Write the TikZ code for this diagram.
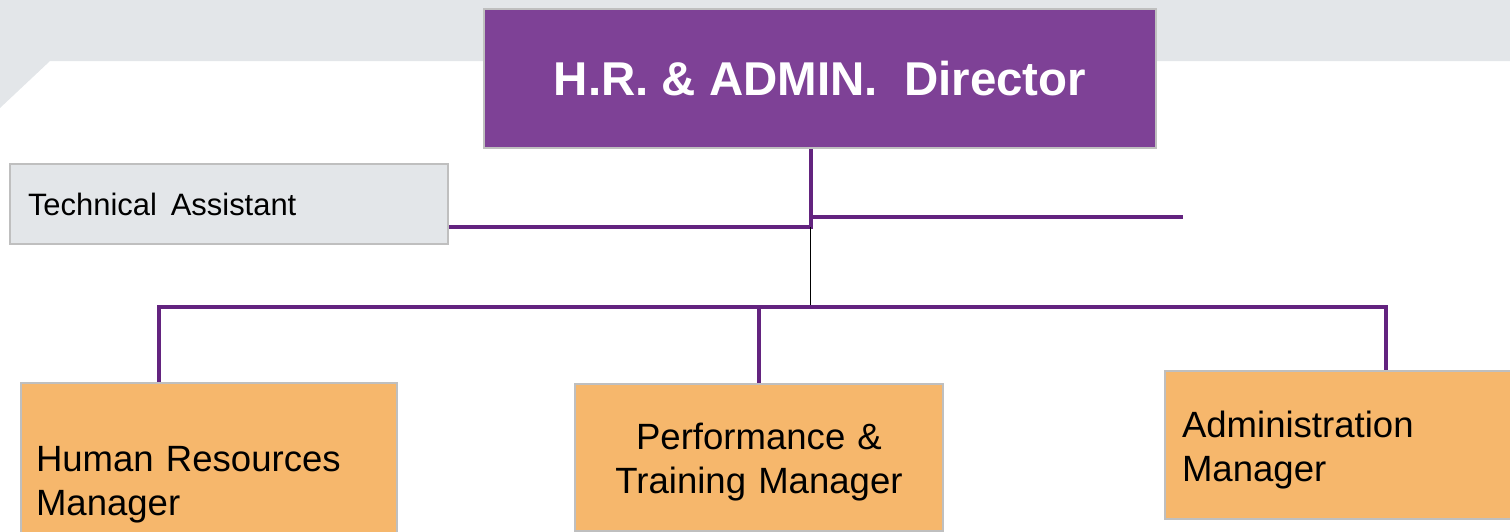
\documentclass[tikz,border=0pt]{standalone}
\usepackage{fontspec}
\setmainfont{Liberation Sans}
\usepackage{tikz}
\usepackage{xcolor}
\definecolor{band}{HTML}{E3E6E9}
\definecolor{plum}{HTML}{7E4196}
\definecolor{wire}{HTML}{63237F}
\definecolor{peach}{HTML}{F6B76C}
\definecolor{frame}{HTML}{BFBFBF}

\begin{document}
\begin{tikzpicture}[
  headnode/.style={
    rectangle,
    draw=frame,
    line width=0.04cm,
    fill=plum,
    minimum width=13.44cm,
    minimum height=2.78cm,
    inner sep=0pt,
    font=\fontsize{27pt}{32pt}\selectfont\bfseries\color{white}
  },
  sidenode/.style={
    rectangle,
    draw=frame,
    line width=0.04cm,
    fill=band,
    text width=8.04cm,
    inner xsep=0.36cm,
    minimum height=1.6cm,
    align=left,
    font=\fontsize{17.6pt}{21pt}\selectfont
  },
  mgrnode/.style={
    rectangle,
    draw=frame,
    line width=0.04cm,
    fill=peach,
    execute at begin node={\rule{0pt}{0.73cm}},
    font=\fontsize{20.8pt}{25pt}\selectfont
  },
  orgline/.style={draw=wire, line width=0.08cm},
  thinline/.style={draw=black, line width=0.035cm}
  ]

  \useasboundingbox (0,0) rectangle (30.2,-10.62);

  % grey band behind the title
  \fill[band] (0,0) -- (30.2,0) -- (30.2,-1.22) -- (1.0,-1.22) -- (0,-2.16) -- cycle;

  % top of the chart
  \begin{scope}
    \node[anchor=north west, headnode] (director) at (9.66,-0.16) {H.R. \& ADMIN.\ \ Director};
    \node[anchor=north west, sidenode] (assistant) at (0.18,-3.26) {Technical\hspace{0.45em}Assistant};
  \end{scope}

  % managers
  \begin{scope}
    \node[anchor=north west, mgrnode, text width=6.92cm, inner xsep=0.30cm, minimum height=3.84cm, align=left] (hr-mgr) at (0.40,-7.64) {Human Resources\\Manager};
    \node[anchor=north west, mgrnode, text width=6.80cm, inner xsep=0.28cm, minimum height=2.94cm, align=center] (pt-mgr) at (11.48,-7.66) {Performance \&\\Training Manager};
    \node[anchor=north west, mgrnode, text width=6.28cm, inner xsep=0.34cm, minimum height=2.96cm, align=left] (adm-mgr) at (23.28,-7.40) {Administration\\Manager};
  \end{scope}

  \coordinate (hub) at (16.21,-4.54);
  \coordinate (side-end) at (23.66,-4.34);
  \coordinate (bus) at (16.21,-6.14);
  \coordinate (hr-drop) at (3.18,-6.14);
  \coordinate (adm-drop) at (27.72,-6.14);

  \draw[orgline] (assistant.east |- hub) -- (hub) -- (director.south -| hub);
  \draw[orgline] (hub |- side-end) -- (side-end);
  \draw[thinline] (hub) -- (bus);
  \draw[orgline] (hr-mgr.north -| hr-drop) -- (hr-drop) -- (adm-drop) -- (adm-mgr.north -| adm-drop);
  \draw[orgline] (pt-mgr.north) -- (pt-mgr.north |- bus);

\end{tikzpicture}
\end{document}
